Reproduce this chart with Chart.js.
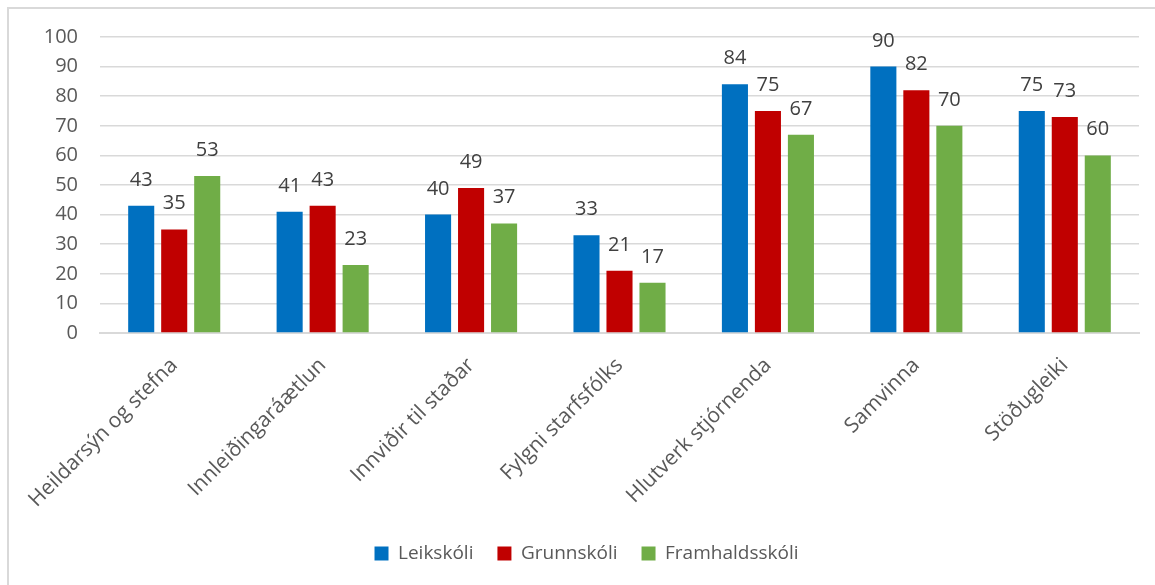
<!DOCTYPE html>
<html>
<head>
<meta charset="utf-8">
<script src="https://cdn.jsdelivr.net/npm/chart.js@4/dist/chart.umd.min.js"></script>
<style>
html,body{margin:0;padding:0;background:#fff;}
#wrap{position:relative;width:1155px;height:585px;}
</style>
</head>
<body>
<div id="wrap"><canvas id="c" width="1155" height="585"></canvas></div>
<script>
const categories = ["Heildarsýn og stefna","Innleiðingaráætlun","Innviðir til staðar","Fylgni starfsfólks","Hlutverk stjórnenda","Samvinna","Stöðugleiki"];
const seriesNames = ["Leikskóli","Grunnskóli","Framhaldsskóli"];
const leikskoli = [43,41,40,33,84,90,75];
const grunnskoli = [35,43,49,21,75,82,73];
const framhaldsskoli = [53,23,37,17,67,70,60];
const yTicks = [0,10,20,30,40,50,60,70,80,90,100];
const colors = ["#0070C0","#C00000","#70AD47"];

const FONT = "'Open Sans', 'Noto Sans', sans-serif";

const borderPlugin = {
  id: 'outerBorder',
  beforeDraw(chart){
    const ctx = chart.ctx;
    ctx.save();
    ctx.fillStyle = '#fff';
    ctx.fillRect(0,0,chart.width,chart.height);
    ctx.strokeStyle = '#d9d9d9';
    ctx.lineWidth = 2;
    ctx.strokeRect(8, 8, chart.width + 20, chart.height + 20);
    ctx.restore();
  }
};

const labelPlugin = {
  id: 'valueLabels',
  afterDatasetsDraw(chart){
    const ctx = chart.ctx;
    ctx.save();
    ctx.font = "20px " + FONT;
    ctx.fillStyle = '#404040';
    ctx.textAlign = 'center';
    ctx.textBaseline = 'alphabetic';
    chart.data.datasets.forEach((ds, i) => {
      const meta = chart.getDatasetMeta(i);
      meta.data.forEach((bar, j) => {
        ctx.fillText(String(ds.data[j]), bar.x, bar.y - 20);
      });
    });
    ctx.restore();
  }
};

new Chart(document.getElementById('c'), {
  type: 'bar',
  data: {
    labels: categories,
    datasets: [
      {label: seriesNames[0], data: leikskoli, backgroundColor: colors[0]},
      {label: seriesNames[1], data: grunnskoli, backgroundColor: colors[1]},
      {label: seriesNames[2], data: framhaldsskoli, backgroundColor: colors[2]}
    ]
  },
  options: {
    responsive: false,
    animation: false,
    devicePixelRatio: 1,
    datasets: { bar: { categoryPercentage: 0.667, barPercentage: 0.79 } },
    layout: { padding: { left: 34, right: 16, top: 37, bottom: 12 } },
    plugins: {
      legend: {
        position: 'bottom',
        labels: {
          font: { family: FONT, size: 19 },
          color: '#595959',
          boxWidth: 14,
          boxHeight: 14,
          padding: 24
        }
      },
      tooltip: { enabled: false }
    },
    scales: {
      x: {
        grid: { display: false, drawTicks: false },
        border: { display: true, color: '#d9d9d9', width: 2 },
        ticks: {
          font: { family: FONT, size: 21 },
          color: '#595959',
          maxRotation: 45,
          minRotation: 45,
          padding: 20,
          autoSkip: false
        },
        afterFit(scale){ scale.height = 187; }
      },
      y: {
        min: 0, max: 100,
        afterBuildTicks(scale){ scale.ticks = yTicks.map(v => ({value: v})); },
        grid: { color: '#d9d9d9', lineWidth: 1.5, drawTicks: false },
        border: { display: false },
        ticks: {
          font: { family: FONT, size: 20 },
          color: '#595959',
          padding: 22
        },
        afterFit(scale){ scale.width = 66; }
      }
    }
  },
  plugins: [borderPlugin, labelPlugin]
});
</script>
</body>
</html>
